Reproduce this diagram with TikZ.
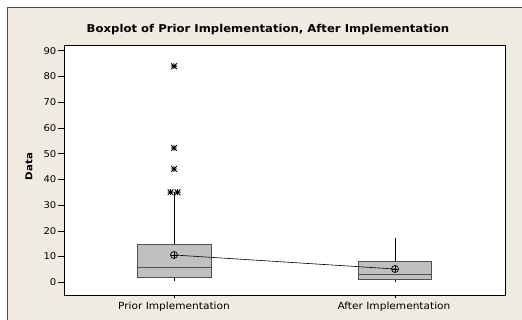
\documentclass[tikz,border=0pt]{standalone}
\usepackage{fontspec}
\setmainfont{DejaVu Sans}
\newfontfamily\widesans{DejaVu Sans}[FakeStretch=1.08]
\definecolor{panel}{RGB}{239,235,224}
\definecolor{boxfill}{RGB}{192,192,192}
\definecolor{boxedge}{RGB}{80,80,80}
\begin{document}
\begin{tikzpicture}[x=1pt,y=-1pt,
  lbl/.style={font=\widesans\fontsize{9.8}{11}\selectfont, inner sep=0pt},
  ticklbl/.style={font=\widesans\fontsize{9.3}{11}\selectfont, inner sep=0pt},
  boxshape/.style={fill=boxfill, draw=boxedge, line width=0.8pt},
  whisker/.style={draw=black, line width=0.7pt},
  outlier/.style={minimum size=6pt, inner sep=0pt,
    path picture={\draw[black, line width=0.9pt]
      (path picture bounding box.north) -- (path picture bounding box.south)
      (path picture bounding box.west) -- (path picture bounding box.east)
      (path picture bounding box.north west) -- (path picture bounding box.south east)
      (path picture bounding box.north east) -- (path picture bounding box.south west);}},
  meanmark/.style={circle, draw=black, line width=0.7pt, minimum size=7pt, inner sep=0pt,
    path picture={\draw[black, line width=0.6pt]
      (path picture bounding box.north) -- (path picture bounding box.south)
      (path picture bounding box.west) -- (path picture bounding box.east);}}]
% canvas
\useasboundingbox (0,0) rectangle (522,320);
\fill[white] (0,0) rectangle (522,320);
\fill[panel] (7,7) rectangle (522,320);
\draw[black!70, line width=0.8pt] (7,320) -- (7,7) -- (522,7);
% title
\node[font=\widesans\fontsize{10.8}{12}\selectfont\bfseries, inner sep=0pt] (title) at (268,29.7)
  {Boxplot of Prior Implementation, After Implementation};
% plot area
\fill[white] (64,45.7) rectangle (505.7,295);
\draw[black, line width=0.8pt] (64,45.7) rectangle (505.7,295);
% y axis: value v maps to 282.3 - 2.573*v
\foreach \v in {0,10,...,90} {
  \draw[black, line width=0.6pt] (58,{282.3-2.573*\v}) -- (64,{282.3-2.573*\v});
  \node[ticklbl, anchor=east] (ytick\v) at (56.5,{282.3-2.573*\v}) {\v};
}
\node[font=\widesans\fontsize{9.5}{11}\selectfont\bfseries, rotate=90, inner sep=0pt] (ylabel) at (29,166.7) {Data};
% x axis
\draw[black, line width=0.6pt] (174,295) -- (174,298.5);
\draw[black, line width=0.6pt] (395,295) -- (395,298.5);
\node[lbl] (xprior) at (174,306.5) {Prior Implementation};
\node[lbl] (xafter) at (394,306.5) {After Implementation};
% prior implementation
\draw[whisker] (174,244) -- (174,192.2);
\draw[whisker] (174,277.3) -- (174,281.5);
\draw[boxshape] (137,244) rectangle (211,277.3);
\draw[boxedge, line width=0.8pt] (137,267.3) -- (211,267.3);
\node[outlier] (o84) at (174,66.2) {};
\node[outlier] (o52) at (174,148) {};
\node[outlier] (o44) at (174,169) {};
\node[outlier] (o35a) at (170.5,192.2) {};
\node[outlier] (o35b) at (177.5,192.2) {};
% after implementation
\draw[whisker] (395,261.3) -- (395,238.3);
\draw[whisker] (395,279.3) -- (395,282);
\draw[boxshape] (358,261.3) rectangle (431.7,279.3);
\draw[boxedge, line width=0.8pt] (358,274.7) -- (431.7,274.7);
% means and connecting line
\node[meanmark] (mprior) at (174,255) {};
\node[meanmark] (mafter) at (395,269) {};
\draw[black, line width=0.6pt] (mprior.center) -- (mafter.center);
\end{tikzpicture}
\end{document}
